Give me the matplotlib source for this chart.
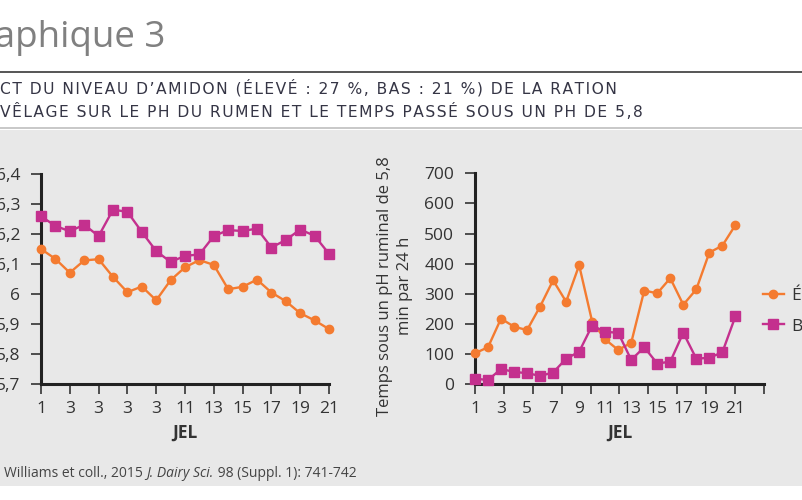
import numpy as np
import matplotlib.pyplot as plt
from matplotlib.lines import Line2D
from matplotlib.patches import Rectangle

# Données
jours = list(range(1, 22))
ph_eleve = [6.150, 6.117, 6.071, 6.112, 6.116, 6.057, 6.006, 6.025, 5.979, 6.046, 6.089,
            6.113, 6.097, 6.016, 6.024, 6.048, 6.005, 5.976, 5.936, 5.912, 5.883]
ph_bas = [6.259, 6.227, 6.209, 6.231, 6.193, 6.281, 6.274, 6.207, 6.143, 6.107, 6.127,
          6.132, 6.193, 6.213, 6.210, 6.218, 6.155, 6.180, 6.215, 6.194, 6.134]
temps_eleve = [103, 123, 218, 191, 180, 258, 345, 274, 395, 208, 149,
               114, 138, 311, 302, 352, 264, 315, 437, 460, 528]
temps_bas = [19, 14, 51, 41, 37, 28, 39, 85, 108, 195, 174,
             171, 81, 123, 69, 75, 171, 85, 88, 106, 225]

ph_ticks = [5.7, 5.8, 5.9, 6.0, 6.1, 6.2, 6.3, 6.4]
ph_labels = ['5,7', '5,8', '5,9', '6', '6,1', '6,2', '6,3', '6,4']
temps_ticks = [0, 100, 200, 300, 400, 500, 600, 700]
jel_ticks = [1, 3, 5, 7, 9, 11, 13, 15, 17, 19, 21]
jel_labels_gauche = ['1', '3', '3', '3', '3', '11', '13', '15', '17', '19', '21']
jel_labels_droite = ['1', '3', '5', '7', '9', '11', '13', '15', '17', '19', '21']
legende = ['Élevé', 'Bas']

orange = '#F47B30'
magenta = '#C4308E'
texte = '#333333'

plt.rcParams['font.family'] = ['Open Sans', 'DejaVu Sans']

W, H = 803, 500
fig = plt.figure(figsize=(W / 100, H / 100), dpi=100)

# fond gris de la zone graphique
fig.patches.append(Rectangle((0, 1 - 486 / H), 1, (486 - 130) / H, transform=fig.transFigure,
                             facecolor='#e8e8e8', edgecolor='none', zorder=-5))
fig.add_artist(Line2D([0, 1], [1 - 72 / H, 1 - 72 / H], transform=fig.transFigure,
                      color='#555555', lw=1.4))
fig.add_artist(Line2D([0, 1], [1 - 128 / H, 1 - 128 / H], transform=fig.transFigure,
                      color='#c8c8c8', lw=1.4))


def espace(s):
    # petit espacement entre les lettres, comme dans l'original
    return '\u200a'.join(s)


fig.text(165 / W, 1 - 47 / H, 'Graphique 3', ha='right', va='baseline',
         fontsize=26.5, color='#808080')
fig.text(0, 1 - 94 / H, espace('CT DU NIVEAU D’AMIDON (ÉLEVÉ : 27 %, BAS : 21 %) DE LA RATION'),
         ha='left', va='baseline', fontsize=11.2, color='#353545', family='DejaVu Sans')
fig.text(0, 1 - 117 / H, espace('VÊLAGE SUR LE PH DU RUMEN ET LE TEMPS PASSÉ SOUS UN PH DE 5,8'),
         ha='left', va='baseline', fontsize=11.2, color='#353545', family='DejaVu Sans')


def style_axe(ax):
    ax.set_facecolor('none')
    for s in ['top', 'right']:
        ax.spines[s].set_visible(False)
    for s in ['left', 'bottom']:
        ax.spines[s].set_linewidth(2.2)
        ax.spines[s].set_color('#222222')
    ax.tick_params(which='major', direction='out', length=7, width=1.2, color='#333333',
                   labelsize=12.5, labelcolor=texte, pad=8)


# graphique de gauche : pH
ax1 = fig.add_axes([41 / W, 1 - 384 / H, 288 / W, 210 / H])
style_axe(ax1)
ax1.tick_params(axis='x', pad=5)
ax1.plot(jours, ph_eleve, color=orange, lw=1.7, marker='o', ms=6, clip_on=False, zorder=3)
ax1.plot(jours, ph_bas, color=magenta, lw=1.7, marker='s', ms=7, clip_on=False, zorder=3)
ax1.set_xlim(1, 21)
ax1.set_ylim(5.7, 6.4)
ax1.set_yticks(ph_ticks, ph_labels)
ax1.set_xticks(jel_ticks, jel_labels_gauche)
ax1.set_xlabel('JEL', fontsize=12.5, fontweight='bold', color=texte, labelpad=5)

# graphique de droite : temps sous pH 5,8
ax2 = fig.add_axes([475 / W, 1 - 384.3 / H, 289 / W, 211 / H])
style_axe(ax2)
ax2.plot(jours, temps_eleve, color=orange, lw=1.7, marker='o', ms=6, clip_on=False, zorder=3)
ax2.plot(jours, temps_bas, color=magenta, lw=1.7, marker='s', ms=7, clip_on=False, zorder=3)
ax2.set_xlim(1, 23.2)
ax2.set_ylim(0, 700)
ax2.set_yticks(temps_ticks)
ax2.xaxis.remove_overlapping_locs = False
ax2.set_xticks(np.linspace(1, 23.2, 11), [''] * 11)
ax2.set_xticks(jel_ticks, jel_labels_droite, minor=True)
ax2.tick_params(which='minor', length=0, labelsize=12.5, labelcolor=texte, pad=12)
ax2.set_xlabel('JEL', fontsize=12.5, fontweight='bold', color=texte, labelpad=5)

fig.text(395 / W, 1 - 286 / H, 'Temps sous un pH ruminal de 5,8\nmin par 24 h',
         rotation=90, ha='center', va='center', ma='center', fontsize=12,
         color=texte, linespacing=1.35)

poignees = [Line2D([], [], color=orange, lw=1.7, marker='o', ms=6),
            Line2D([], [], color=magenta, lw=1.7, marker='s', ms=7)]
ax2.legend(poignees, legende, loc='center left', bbox_to_anchor=(763 / W, 1 - 311 / H),
           bbox_transform=fig.transFigure, frameon=False, borderpad=0, borderaxespad=0,
           handlelength=1.2, handletextpad=0.4, labelspacing=0.85, fontsize=12.5,
           labelcolor=texte)

# source
t1 = fig.text(4 / W, 1 - 477 / H, 'Williams et coll., 2015 ', ha='left', va='baseline',
              fontsize=10, color='#444444')
t2 = ax2.annotate('J. Dairy Sci.', xy=(1, 0), xycoords=t1, ha='left', va='bottom',
                  fontsize=10, color='#444444', style='italic')
ax2.annotate(' 98 (Suppl. 1): 741-742', xy=(1, 0), xycoords=t2, ha='left', va='bottom',
             fontsize=10, color='#444444')

fig.savefig('out.png', dpi=100)
